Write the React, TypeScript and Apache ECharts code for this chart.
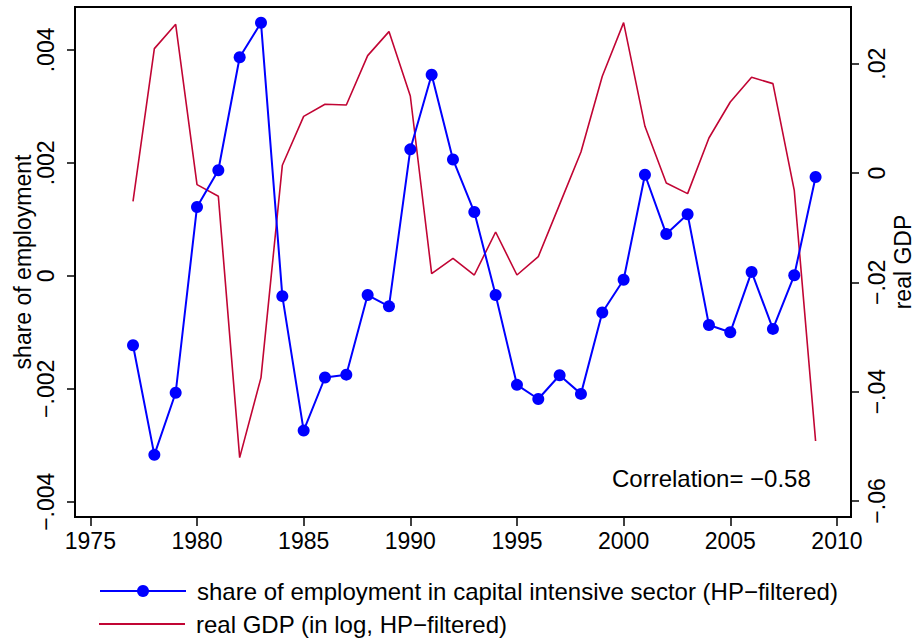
import React, { useEffect, useRef } from "react";
import * as echarts from "echarts";

const years = [1977,1978,1979,1980,1981,1982,1983,1984,1985,1986,1987,1988,1989,1990,1991,1992,1993,1994,1995,1996,1997,1998,1999,2000,2001,2002,2003,2004,2005,2006,2007,2008,2009];
const employmentShare = [-0.00123,-0.00317,-0.00207,0.00122,0.00187,0.00387,0.00448,-0.00036,-0.00274,-0.0018,-0.00175,-0.00034,-0.00054,0.00224,0.00356,0.00206,0.00113,-0.00034,-0.00193,-0.00218,-0.00176,-0.00209,-0.00065,-0.00007,0.00179,0.00074,0.00109,-0.00087,-0.001,0.00007,-0.00094,0.00001,0.00175];
const realGDP = [-0.00518,0.02276,0.0272,-0.00212,-0.00426,-0.05207,-0.03743,0.00141,0.01037,0.01257,0.01244,0.02148,0.02587,0.01409,-0.0184,-0.0156,-0.01866,-0.01079,-0.01866,-0.0153,-0.00573,0.00384,0.0177,0.02751,0.00854,-0.00183,-0.00377,0.0064,0.01299,0.01751,0.01635,-0.00316,-0.04903];
const xTicks = [1975,1980,1985,1990,1995,2000,2005,2010];
const leftTicks = [-0.004,-0.002,0,0.002,0.004];
const leftTickLabels = ["\u2212.004","\u2212.002","0",".002",".004"];
const rightTicks = [-0.06,-0.04,-0.02,0,0.02];
const rightTickLabels = ["\u2212.06","\u2212.04","\u2212.02","0",".02"];
const seriesNames = ["share of employment in capital intensive sector (HP\u2212filtered)", "real GDP (in log, HP\u2212filtered)"];
const correlationText = "Correlation= \u22120.58";

const FONT = "'Liberation Sans', Arial, Helvetica, sans-serif";

function labelFor(ticks: number[], labels: string[]) {
  return (v: number) => {
    let best = 0;
    for (let i = 0; i < ticks.length; i++) {
      if (Math.abs(ticks[i] - v) < Math.abs(ticks[best] - v)) best = i;
    }
    return labels[best];
  };
}

export default function App() {
  const ref = useRef<HTMLDivElement>(null);
  useEffect(() => {
    document.body.style.margin = "0";
    const chart = echarts.init(ref.current!, null, { renderer: "svg" });
    const axisLineStyle = { color: "#000", width: 2 };
    const legendText = { fontSize: 24, color: "#000", fontFamily: FONT, padding: [0, 0, 0, 6] };
    chart.setOption({
      animation: false,
      backgroundColor: "#fff",
      textStyle: { fontFamily: FONT },
      grid: { left: 75, top: 7, right: 64, bottom: 126, show: true, borderColor: "#000", borderWidth: 2, backgroundColor: "transparent", containLabel: false, outerBoundsMode: "none" },
      legend: [
        {
          orient: "vertical",
          left: 94,
          top: 574,
          itemWidth: 86,
          itemHeight: 15,
          textStyle: legendText,
          data: [{ name: seriesNames[0] }],
        },
        {
          orient: "vertical",
          left: 94,
          top: 607,
          itemWidth: 86,
          itemHeight: 15,
          textStyle: legendText,
          data: [{ name: seriesNames[1], icon: "path://M0,6.5 L86,6.5 L86,8.5 L0,8.5 Z M0,0 L0.01,0 L0.01,15 L0,15 Z" }],
        },
      ],
      xAxis: {
        type: "value",
        min: 1974.28,
        max: 2010.66,
        axisLine: { onZero: false, lineStyle: axisLineStyle },
        axisTick: { show: true, length: 9, lineStyle: { color: "#000", width: 1.5 }, customValues: xTicks },
        axisLabel: { fontSize: 23, color: "#000", margin: 12, fontFamily: FONT, customValues: xTicks, formatter: (v: number) => String(Math.round(v)) },
        splitLine: { show: false },
      },
      yAxis: [
        {
          type: "value",
          min: -0.00427,
          max: 0.00476,
          position: "left",
          name: "share of employment",
          nameLocation: "middle",
          nameGap: 41,
          nameMoveOverlap: false,
          nameTextStyle: { fontSize: 23, color: "#000", fontFamily: FONT },
          axisLine: { show: true, onZero: false, lineStyle: axisLineStyle },
          axisTick: { show: true, length: 8, lineStyle: { color: "#000", width: 1.5 }, customValues: leftTicks },
          axisLabel: { fontSize: 23, color: "#000", rotate: 90, margin: 18, fontFamily: FONT, customValues: leftTicks, formatter: labelFor(leftTicks, leftTickLabels) },
          splitLine: { show: false },
        },
        {
          type: "value",
          min: -0.06293,
          max: 0.03037,
          position: "right",
          name: "real GDP",
          nameLocation: "middle",
          nameGap: 40,
          nameMoveOverlap: false,
          nameRotate: 90,
          nameTextStyle: { fontSize: 23, color: "#000", fontFamily: FONT },
          axisLine: { show: true, onZero: false, lineStyle: axisLineStyle },
          axisTick: { show: true, length: 8, lineStyle: { color: "#000", width: 1.5 }, customValues: rightTicks },
          axisLabel: { fontSize: 23, color: "#000", rotate: 90, margin: 14, fontFamily: FONT, customValues: rightTicks, formatter: labelFor(rightTicks, rightTickLabels) },
          splitLine: { show: false },
        },
      ],
      series: [
        {
          name: seriesNames[0],
          type: "line",
          yAxisIndex: 0,
          data: years.map((y, i) => [y, employmentShare[i]]),
          symbol: "circle",
          symbolSize: 12,
          showSymbol: true,
          color: "#0000ff",
          lineStyle: { color: "#0000ff", width: 2 },
          itemStyle: { color: "#0000ff" },
          z: 3,
        },
        {
          name: seriesNames[1],
          type: "line",
          yAxisIndex: 1,
          data: years.map((y, i) => [y, realGDP[i]]),
          symbol: "none",
          color: "#c10534",
          lineStyle: { color: "#c10534", width: 1.6 },
          itemStyle: { color: "#c10534" },
          z: 2,
        },
      ],
      graphic: [
        {
          type: "text",
          left: 612,
          top: 466,
          style: { text: correlationText, fontSize: 24, fill: "#000", fontFamily: FONT },
        },
      ],
    });
    return () => chart.dispose();
  }, []);
  return <div ref={ref} style={{ width: 915, height: 643 }} />;
}
